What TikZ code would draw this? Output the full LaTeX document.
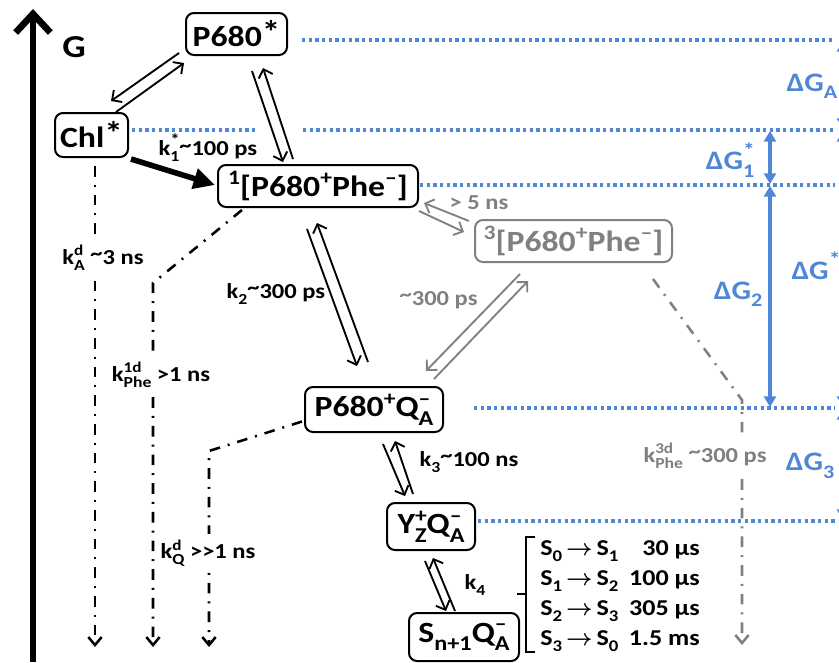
\documentclass[tikz,border=0pt]{standalone}
\usepackage{fontspec}
\setmainfont{Carlito}[FakeStretch=1.15]
\usepackage{xcolor}
\usepackage{tikz}
\usetikzlibrary{arrows.meta, positioning}

\definecolor{lvlblue}{RGB}{79,135,214}
\definecolor{fadegray}{RGB}{128,128,128}

\newcommand{\boxfont}{\fontsize{22}{26}\selectfont\bfseries}
\newcommand{\lblfont}{\fontsize{16}{19}\selectfont\bfseries}
\newcommand{\ratefont}{\fontsize{17}{22.5}\selectfont\bfseries}
\newcommand{\dgfont}{\fontsize{20}{24}\selectfont\bfseries}
\newcommand{\spr}[1]{\raisebox{0.40em}{\scalebox{0.7}{#1}}}
\newcommand{\sbs}[1]{\raisebox{-0.28em}{\scalebox{0.72}{#1}}}
\newcommand{\spsb}[2]{\rlap{\spr{#1}}\sbs{#2}}
\newcommand{\tld}{\raisebox{0.18em}{\textasciitilde}}
\newcommand{\stargl}{\raisebox{0.1em}{\scalebox{1.1}{*}}}

\begin{document}
\begin{tikzpicture}[
    x=0.75pt, y=-0.75pt,
    statebox/.style={draw, rounded corners=6pt, line width=1.5pt, inner sep=1pt, font=\boxfont},
    rate/.style={-{Straight Barb[length=5.5pt,width=11pt]}, line width=1.4pt},
    fast/.style={-{Triangle[length=16pt,width=15pt]}, line width=4.2pt},
    decay/.style={-{Straight Barb[length=6pt,width=10pt]}, line width=1.9pt, dash pattern=on 8pt off 6pt on 1.5pt off 6pt},
    axis/.style={-{Straight Barb[length=14pt,width=26pt]}, line width=5pt},
    lvline/.style={draw=lvlblue, line width=2.6pt, dash pattern=on 2.4pt off 2.6pt},
    dgarrow/.style={{Triangle[length=8pt,width=9pt]}-{Triangle[length=8pt,width=9pt]}, draw=lvlblue, fill=lvlblue, line width=2.6pt},
    lbl/.style={font=\lblfont, inner sep=1pt},
    dglbl/.style={font=\dgfont, text=lvlblue, inner sep=0pt}
]
\useasboundingbox (0,0) rectangle (839,662);
\clip (0,0) rectangle (839,662);

% energy axis
\draw[axis] (33,662) -- (33,9);
\node[font=\fontsize{24}{28}\selectfont\bfseries] (glabel) at (74,47) {G};

% levels
\draw[lvline] (302,40) -- (835,40);
\draw[lvline] (132,130) -- (258,130);
\draw[lvline] (303,130) -- (835,130);
\draw[lvline] (420,185) -- (835,185);
\draw[lvline] (474,408) -- (835,408);
\draw[lvline] (478,521) -- (835,521);

% states
\node[statebox, minimum width=75.75pt, minimum height=31.5pt] (p680ex) at (236.5,34) {P680\stargl};
\node[statebox, minimum width=54.75pt, minimum height=33pt] (chlex) at (91.5,135) {Chl\stargl};
\node[statebox, minimum width=150pt, minimum height=31.5pt] (rp1) at (318,186) {\spr{1}[P680\spr{+}Phe\spr{\textendash}]};
\node[statebox, draw=fadegray, text=fadegray, minimum width=147.75pt, minimum height=31.5pt] (rp3) at (573.5,241) {\spr{3}[P680\spr{+}Phe\spr{\textendash}]};
\node[statebox, minimum width=103.5pt, minimum height=33.75pt] (pq) at (374,409.5) {P680\spr{+}Q\spsb{\textendash}{A}};
\node[statebox, minimum width=66pt, minimum height=35.25pt] (yq) at (431,526.5) {Y\spsb{+}{Z}Q\spsb{\textendash}{A}};
\node[statebox, minimum width=82.5pt, minimum height=36pt] (sq) at (464,637) {S\sbs{n+1}Q\spsb{\textendash}{A}};

% forward / backward steps
\draw[rate] ([shift={(-6,-3)}]p680ex.south west) -- ([shift={(-18,-11)}]chlex.north east);
\draw[rate] ([shift={(-13,0)}]chlex.north east) -- ([shift={(-1,7)}]p680ex.south west);
\draw[rate] ([shift={(15.5,15)}]p680ex.south) -- ([shift={(-35,-2)}]rp1.north);
\draw[rate] ([shift={(-25,-5)}]rp1.north) -- ([shift={(26.5,12)}]p680ex.south);
\draw[rate] ([shift={(-11,21)}]rp1.south) -- ([shift={(-17,-20)}]pq.north);
\draw[rate] ([shift={(-6,-24)}]pq.north) -- ([shift={(-1,15)}]rp1.south);
\draw[rate] ([shift={(9,11)}]pq.south) -- ([shift={(-26,-6)}]yq.north);
\draw[rate] ([shift={(-18,-8)}]yq.north) -- ([shift={(21,8)}]pq.south);
\draw[rate] ([shift={(-6,10)}]yq.south) -- ([shift={(-18,-1)}]sq.north);
\draw[rate] ([shift={(-9,-1)}]sq.north) -- ([shift={(2,7)}]yq.south);
\draw[fast] ([shift={(2,1)}]chlex.south east) -- ([shift={(-2,-1)}]rp1.west);

% triplet branch
\draw[rate, fadegray] ([shift={(0,3)}]rp1.south east) -- ([shift={(-10,-9)}]rp3.west);
\draw[rate, fadegray] ([shift={(-5,2)}]rp3.north west) -- ([shift={(5,-5)}]rp1.south east);
\draw[rate, fadegray] ([shift={(-53.5,11)}]rp3.south) -- ([shift={(-18,-15)}]pq.north east);
\draw[rate, fadegray] ([shift={(-10,-7)}]pq.north east) -- ([shift={(-45.5,18)}]rp3.south);

% decay channels
\coordinate (chldown) at (95,647);
\coordinate (phebend) at (153,283);
\coordinate (phedown) at (153,647);
\coordinate (qbend) at (209,451);
\coordinate (qdown) at (209,647);
\coordinate (tbend) at (742,400);
\coordinate (tdown) at (742,645);
\draw[decay] ([shift={(3.5,8)}]chlex.south) -- (chldown);
\draw[decay] ([shift={(25,2)}]rp1.south west) -- (phebend) -- (phedown);
\draw[decay] ([shift={(-2,12)}]pq.west) -- (qbend) -- (qdown);
\draw[decay, fadegray] ([shift={(-20,16)}]rp3.south east) -- (tbend) -- (tdown);

% rate labels
\node[lbl, anchor=west] (k1lbl) at (157,148) {k\spsb{\stargl}{1}\tld100 ps};
\node[lbl, anchor=west] (k2lbl) at (225,294) {k\sbs{2}\tld300 ps};
\node[lbl, anchor=west] (k3lbl) at (418,462) {k\sbs{3}\tld100 ns};
\node[lbl, anchor=west] (k4lbl) at (463,585) {k\sbs{4}};
\node[lbl, fill=white, inner sep=4pt] (kAlbl) at (103,258) {k\spsb{d}{A} \tld3 ns};
\node[lbl, fill=white, inner sep=4pt] (kPlbl) at (161,375) {k\spsb{1d}{Phe} >1 ns};
\node[lbl, fill=white, inner sep=4pt] (kQlbl) at (208,553) {k\spsb{d}{Q} >{}>1 ns};
\node[lbl, text=fadegray, anchor=west] (isclbl) at (448,203) {> 5 ns};
\node[lbl, text=fadegray, anchor=west] (tqlbl) at (398,300) {\tld300 ps};
\node[lbl, text=fadegray, fill=white, inner sep=4pt] (kTlbl) at (705,456) {k\spsb{3d}{Phe} \tld300 ps};

% S-state turnover
\node[font=\ratefont, anchor=west, inner sep=0pt] (srates) at (540,594) {%
\begin{tabular}{@{}l@{\hspace{3pt}}c@{\hspace{3pt}}l@{}r@{}}
S\sbs{0} & {\boldmath$\rightarrow$} & S\sbs{1} & \makebox[61pt][r]{30 µs}\\
S\sbs{1} & {\boldmath$\rightarrow$} & S\sbs{2} & \makebox[61pt][r]{100 µs}\\
S\sbs{2} & {\boldmath$\rightarrow$} & S\sbs{3} & \makebox[61pt][r]{305 µs}\\
S\sbs{3} & {\boldmath$\rightarrow$} & S\sbs{0} & \makebox[61pt][r]{1.5 ms}
\end{tabular}};
\draw[line width=1.5pt] (535,537) -- (526,537) -- (526,652) -- (535,652) (526,594) -- (517,594);

% free energy gaps
\draw[dgarrow] (770,131) -- (770,184);
\draw[dgarrow] (770,186) -- (770,407);
\draw[dgarrow] (843,41) -- (843,129);
\draw[dgarrow] (843,131) -- (843,407);
\draw[dgarrow] (843,409) -- (843,520);
\node[dglbl] (dga) at (812,86) {ΔG\sbs{A}};
\node[dglbl] (dg1) at (730,160) {ΔG\spsb{\stargl}{1}};
\node[dglbl] (dg2) at (738,294) {ΔG\sbs{2}};
\node[dglbl] (dgs) at (816,266) {ΔG\spr{\stargl}};
\node[dglbl] (dg3) at (810,466) {ΔG\sbs{3}};
\end{tikzpicture}
\end{document}
